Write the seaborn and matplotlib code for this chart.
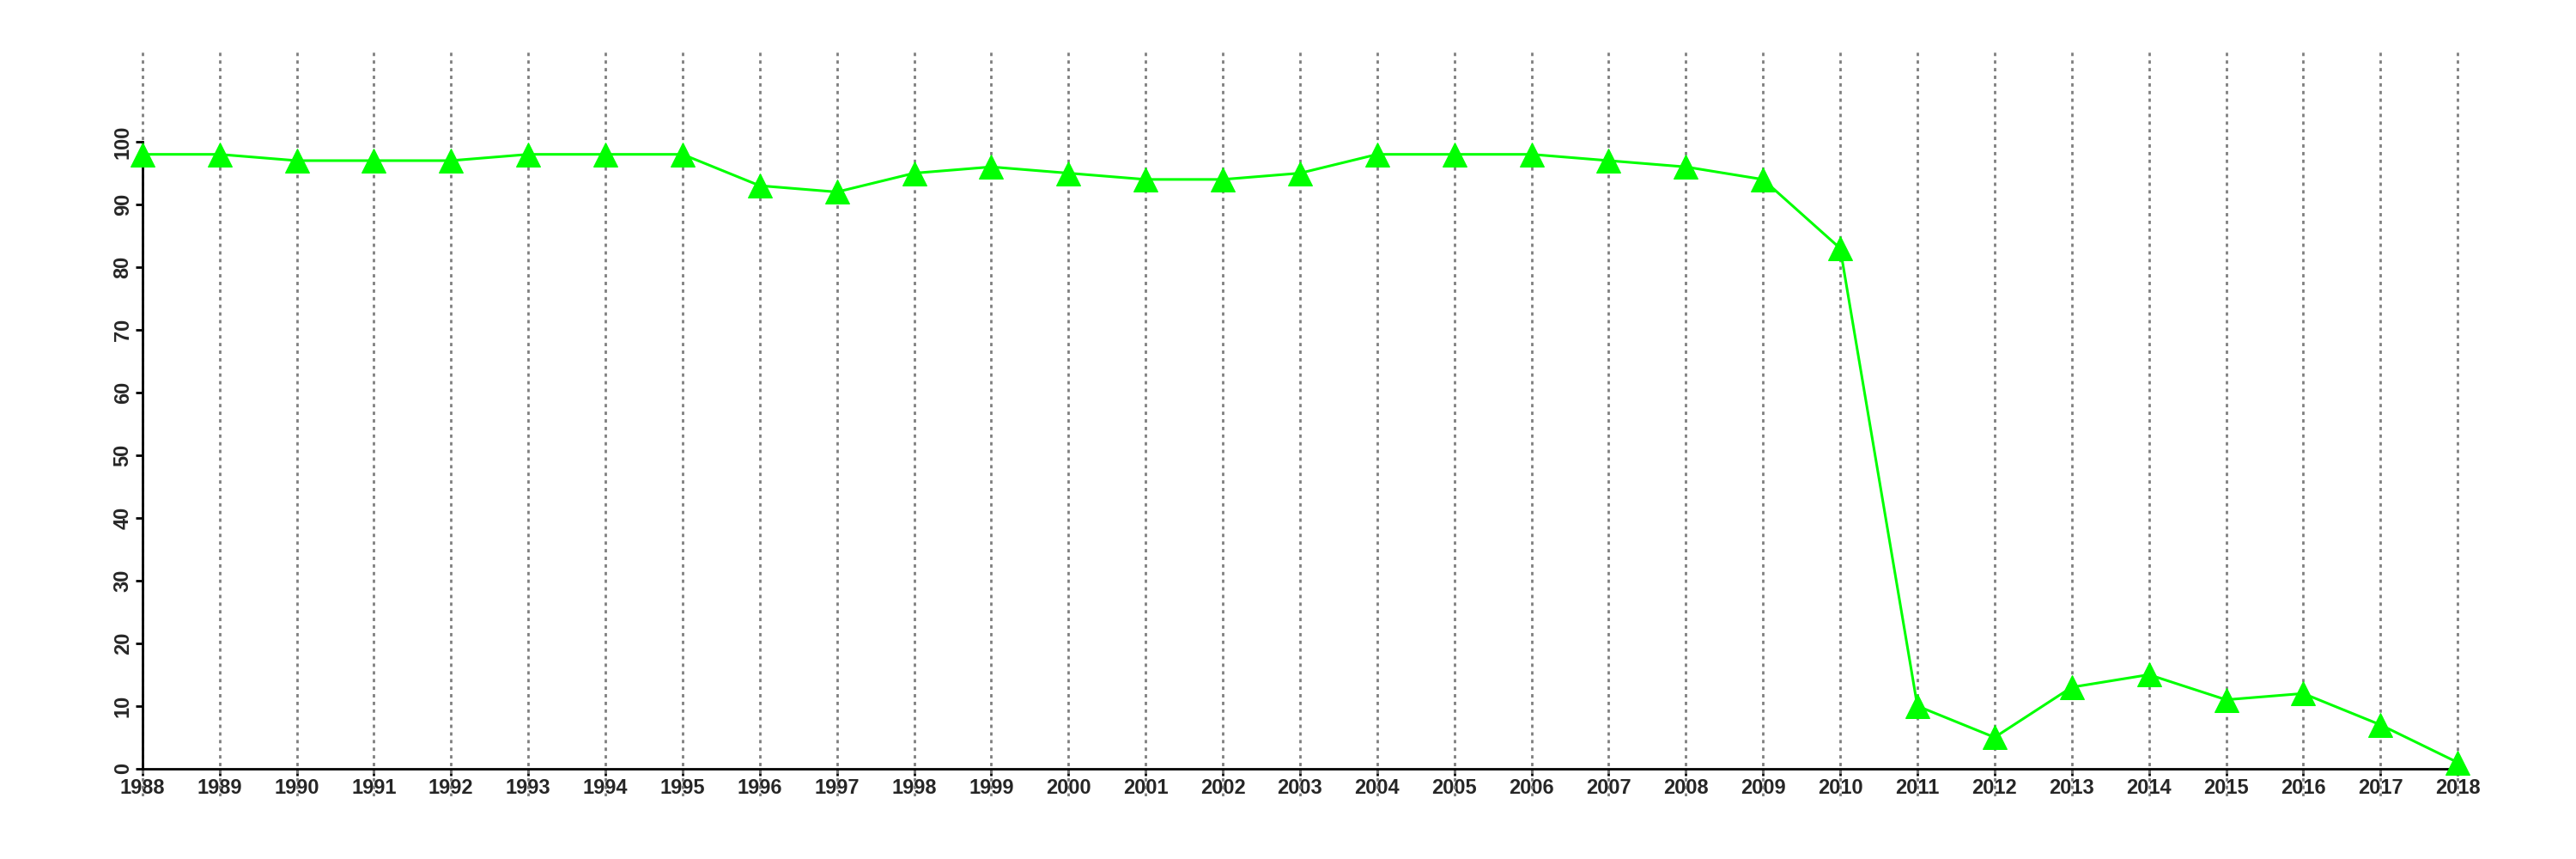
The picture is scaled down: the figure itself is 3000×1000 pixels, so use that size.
import pandas as pd
import matplotlib
matplotlib.use('Agg')
import matplotlib.pyplot as plt
import seaborn as sns

# values
years = list(range(1988, 2019))
values = [98, 98, 97, 97, 97, 98, 98, 98, 93, 92, 95, 96, 95, 94, 94, 95,
          98, 98, 98, 97, 96, 94, 83, 10, 5, 13, 15, 11, 12, 7, 1]
y_ticks = [0, 10, 20, 30, 40, 50, 60, 70, 80, 90, 100]

df = pd.DataFrame({'year': years, 'value': values})

sns.set_style('white')
plt.rcParams['font.family'] = ['Liberation Sans', 'DejaVu Sans']

fig = plt.figure(figsize=(30, 10), dpi=100)
ax = fig.add_axes([0.0193, 0.073, 0.9707, 0.867])

# dotted vertical guides at every year
for yr in years:
    ax.axvline(yr, color='#7f7f7f', lw=2, linestyle=(0, (1.4, 1.8)), zorder=1)

sns.lineplot(x='year', y='value', data=df, ax=ax, color='#00ff00', lw=2.2,
             marker='^', markersize=20, markeredgecolor='#00ff00', zorder=3)

ax.set_xlim(1986.8, 2019.2)
ax.set_ylim(-4.4, 114.4)

ax.spines['top'].set_visible(False)
ax.spines['right'].set_visible(False)
ax.spines['bottom'].set_position(('data', 0))
ax.spines['left'].set_position(('data', 1988))
ax.spines['bottom'].set_bounds(1988, 2018)
ax.spines['left'].set_bounds(0, 100)
for s in ['bottom', 'left']:
    ax.spines[s].set_linewidth(2)
    ax.spines[s].set_color('black')

ax.set_xticks(years)
ax.set_xticklabels([str(y) for y in years], fontsize=17, fontweight='bold')
ax.set_yticks(y_ticks)
ax.set_yticklabels([str(v) for v in y_ticks], fontsize=17, fontweight='bold',
                   rotation=90, va='center')
ax.tick_params(axis='both', direction='out', length=6, width=2, color='black',
               bottom=True, left=True, pad=2)
ax.set_xlabel('')
ax.set_ylabel('')
ax.patch.set_alpha(0)

fig.savefig('out.png', dpi=100, facecolor='white')
